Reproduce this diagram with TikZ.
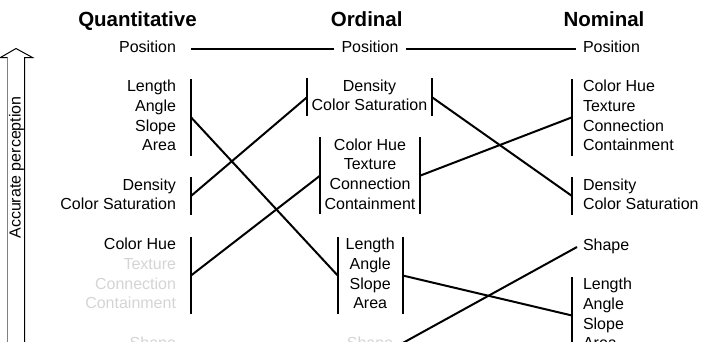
\documentclass[tikz,border=0pt]{standalone}
\usepackage{fontspec}
\setmainfont{Liberation Sans}
\definecolor{faded}{HTML}{D4D4D4}
\definecolor{shaftgray}{HTML}{808080}
\tikzset{
  body/.style={font=\fontsize{16}{19.7}\selectfont, inner ysep=-1pt, outer sep=0pt},
  head/.style={font=\fontsize{20.5}{24}\selectfont\bfseries, anchor=base, inner sep=0pt},
  qcol/.style={body, anchor=east, align=right, inner xsep=15pt},
  ncol/.style={body, anchor=west, align=left, inner xsep=11pt},
  ocol/.style={body, align=center, inner xsep=0pt},
  link/.style={line width=2pt, line cap=butt},
  bar/.style={line width=2pt},
}
\begin{document}
\begin{tikzpicture}[x=1pt,y=-1pt]
\useasboundingbox (0,0) rectangle (717,341);
\clip (0,0) rectangle (717,341);

% headers
\node[head] (hq) at (137.5,26.5) {Quantitative};
\node[head] (ho) at (366.7,26.5) {Ordinal};
\node[head] (hn) at (604,26.5) {Nominal};

% accurate perception arrow
\draw[line width=1pt] (24.5,350) -- (24.5,57.5) -- (32.5,57.5) -- (16,48.5) -- (0.5,57.5) -- (7.5,57.5);
\draw[line width=1pt, shaftgray] (7.5,57.5) -- (7.5,350);
\node[font=\fontsize{16}{19.7}\selectfont, rotate=90, inner sep=0pt] (acc) at (16.5,167.5) {Accurate perception};

% Quantitative column
\node[qcol] (qpos) at (191,48.5) {\strut Position};
\node[qcol] (q2) at (191,117.3) {\strut Length\\\strut Angle\\\strut Slope\\\strut Area};
\node[qcol] (q3) at (191,196) {\strut Density\\\strut Color Saturation};
\node[qcol] (q4) at (191,275.5) {\strut Color Hue\\\strut\textcolor{faded}{Texture}\\\strut\textcolor{faded}{Connection}\\\strut\textcolor{faded}{Containment}};
\node[qcol, text=faded] (q5) at (191,345) {\strut Shape};

% Ordinal column
\node[ocol, inner xsep=7.5pt] (opos) at (370,48.5) {\strut Position};
\node[ocol, minimum width=124.4pt] (o2) at (369.5,97) {\strut Density\\\strut Color Saturation};
\node[ocol, minimum width=100pt] (o3) at (370,175.7) {\strut Color Hue\\\strut Texture\\\strut Connection\\\strut Containment};
\node[ocol, minimum width=65pt] (o4) at (370.2,275.5) {\strut Length\\\strut Angle\\\strut Slope\\\strut Area};
\node[ocol, inner xsep=6pt, text=faded] (o5) at (370,345) {\strut Shape};

% Nominal column
\node[ncol, inner xsep=7pt] (npos) at (576,48.5) {\strut Position};
\node[ncol] (n2) at (572,117.3) {\strut Color Hue\\\strut Texture\\\strut Connection\\\strut Containment};
\node[ncol] (n3) at (572,196) {\strut Density\\\strut Color Saturation};
\node[ncol, inner xsep=6pt] (n4) at (577,247) {\strut Shape};
\node[ncol] (n5) at (572,315.5) {\strut Length\\\strut Angle\\\strut Slope\\\strut Area};

% bars
\foreach \n in {q2,q3,q4} \draw[bar] (\n.north east) -- (\n.south east);
\foreach \n in {o2,o3,o4} {
  \draw[bar] (\n.north east) -- (\n.south east);
  \draw[bar] (\n.north west) -- (\n.south west);
}
\foreach \n in {n2,n3,n5} \draw[bar] (\n.north west) -- (\n.south west);

% connectors
\draw[link] (qpos.east) -- (opos.west);
\draw[link] (opos.east) -- (npos.west);
\draw[link] (q2.east) -- (o4.west);
\draw[link] (q3.east) -- (o2.west);
\draw[link] (q4.east) -- (o3.west);
\draw[link] (o2.east) -- (n3.west);
\draw[link] (o3.east) -- (n2.west);
\draw[link] (o4.east) -- (n5.west);
\draw[link] (o5.east) -- (n4.west);
\end{tikzpicture}
\end{document}
